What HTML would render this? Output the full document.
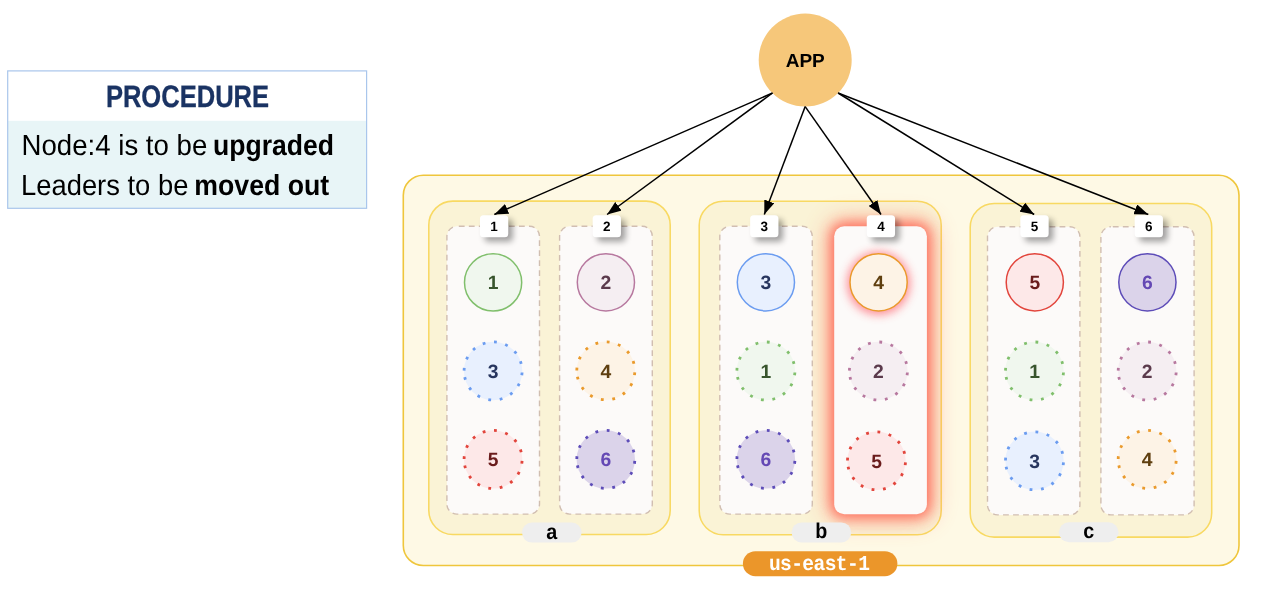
<!DOCTYPE html>
<html lang="en"><head><meta charset="utf-8"><title>Procedure</title>
<style>
html,body{margin:0;padding:0;background:#fff;}
body{width:1261px;height:594px;overflow:hidden;}
svg{display:block;position:absolute;left:0;top:0;will-change:transform;}
text{text-rendering:geometricPrecision;}
text{font-family:"Liberation Sans",sans-serif;}
.n{font-weight:bold;font-size:19.3px;text-anchor:middle;}
.l{font-weight:bold;font-size:13.5px;text-anchor:middle;fill:#000;}
.z{font-weight:bold;font-size:19px;text-anchor:middle;fill:#000;}
.m{font-family:"Liberation Mono","DejaVu Sans Mono",monospace;font-weight:bold;font-size:19.6px;fill:#fff;}
.b{font-size:29px;fill:#000;}
.bb{font-size:29px;fill:#000;font-weight:bold;}
.t{font-size:31px;font-weight:bold;fill:#1a3363;stroke:#1a3363;stroke-width:0.3px;stroke-linejoin:round;}
</style></head><body>
<svg width="1261" height="594" viewBox="0 0 1261 594" role="img" aria-label="Procedure diagram">
<defs>
<filter id="glow" x="-80%" y="-30%" width="260%" height="160%"><feGaussianBlur stdDeviation="6.5"/></filter>
<filter id="glowb" x="-90%" y="-40%" width="280%" height="180%"><feGaussianBlur stdDeviation="13"/></filter>
<filter id="glow2" x="-60%" y="-60%" width="220%" height="220%"><feGaussianBlur stdDeviation="5"/></filter>
<filter id="sh" x="-60%" y="-60%" width="220%" height="220%"><feGaussianBlur stdDeviation="3.1"/></filter>
<marker id="ah" viewBox="0 0 14 10.6" refX="14" refY="5.3" markerWidth="14" markerHeight="10.6" markerUnits="userSpaceOnUse" orient="auto"><path d="M0 0 L14 5.3 L0 10.6 Z" fill="#000"/></marker>
</defs>
<rect width="1261" height="594" fill="#ffffff"/>
<g id="procedure">
<rect x="8" y="71" width="358.5" height="50" fill="#ffffff"/>
<rect x="8" y="120.8" width="358.5" height="87.2" fill="#e8f5f7"/>
<rect x="7.7" y="70.9" width="358.9" height="137.4" fill="none" stroke="#a9c6ec" stroke-width="1.2"/>
<text class="t" x="105.9" y="107.3" textLength="163.2" lengthAdjust="spacingAndGlyphs">PROCEDURE</text>
<text class="b" y="154.9"><tspan x="21.5" textLength="185.8" lengthAdjust="spacingAndGlyphs">Node:4 is to be</tspan> <tspan class="bb" x="213.1" textLength="121" lengthAdjust="spacingAndGlyphs">upgraded</tspan></text>
<text class="b" y="194.6"><tspan x="21.0" textLength="167.4" lengthAdjust="spacingAndGlyphs">Leaders to be</tspan> <tspan class="bb" x="194.3" textLength="134.9" lengthAdjust="spacingAndGlyphs">moved out</tspan></text>
</g>
<g id="region">
<rect x="403.3" y="175.3" width="835.7" height="390.2" rx="20" fill="#fef9e5" stroke="#efc63c" stroke-width="1.6"/>
<rect x="428.8" y="201.1" width="241.4" height="333.4" rx="24" fill="#faf3d6" stroke="#f8d962" stroke-width="1.55"/>
<rect x="699.2" y="201.2" width="242" height="333.6" rx="24" fill="#faf3d6" stroke="#f8d962" stroke-width="1.55"/>
<rect x="970.2" y="203.5" width="241.5" height="333.6" rx="24" fill="#faf3d6" stroke="#f8d962" stroke-width="1.55"/>
</g>
<rect x="827.2" y="219.2" width="106.7" height="302" rx="16" fill="#ff4a3a" opacity="0.32" filter="url(#glowb)"/>
<rect x="830.7" y="222.7" width="99.7" height="295" rx="13" fill="#ff4a3a" opacity="0.72" filter="url(#glow)"/>
<rect x="446.9" y="226.3" width="92.6" height="287.8" rx="10" fill="#fcfaf9" stroke="#d1beb1" stroke-width="1.4" stroke-dasharray="5.8 4.22" stroke-dashoffset="-1.92"/>
<rect x="559.6" y="226.3" width="92.7" height="287.8" rx="10" fill="#fcfaf9" stroke="#d1beb1" stroke-width="1.4" stroke-dasharray="5.8 4.22" stroke-dashoffset="-1.92"/>
<rect x="719.8" y="226.3" width="92.5" height="287.8" rx="10" fill="#fcfaf9" stroke="#d1beb1" stroke-width="1.4" stroke-dasharray="5.8 4.22" stroke-dashoffset="-1.92"/>
<rect x="834.2" y="226.2" width="92.7" height="288" rx="10" fill="#fcfaf9"/>
<rect x="987.5" y="226.8" width="92.4" height="288.1" rx="10" fill="#fcfaf9" stroke="#d1beb1" stroke-width="1.4" stroke-dasharray="5.8 4.22" stroke-dashoffset="-1.92"/>
<rect x="1100.9" y="226.8" width="93.2" height="288.1" rx="10" fill="#fcfaf9" stroke="#d1beb1" stroke-width="1.4" stroke-dasharray="5.8 4.22" stroke-dashoffset="-1.92"/>
<circle cx="493.1" cy="282.4" r="28.6" fill="#f0f7ee" stroke="#80bf6c" stroke-width="1.5"/>
<text class="n" x="493.1" y="289.3" fill="#38552d">1</text>
<circle cx="493.1" cy="371" r="29.2" fill="#e8f0fe"/>
<path d="M464.1 371A29 29 0 1 1 522.1 371A29 29 0 1 1 464.1 371" fill="none" stroke="#6b9cf0" stroke-width="2.8" stroke-dasharray="2.8 8.715" stroke-dashoffset="-0.4"/>
<text class="n" x="493.1" y="377.9" fill="#27355e">3</text>
<circle cx="493.1" cy="459.4" r="29.2" fill="#fde8e8"/>
<path d="M464.1 459.4A29 29 0 1 1 522.1 459.4A29 29 0 1 1 464.1 459.4" fill="none" stroke="#e2453c" stroke-width="2.8" stroke-dasharray="2.8 8.715" stroke-dashoffset="-0.4"/>
<text class="n" x="493.1" y="466.3" fill="#6a1c1c">5</text>
<circle cx="605.9" cy="282.3" r="28.6" fill="#f5eef2" stroke="#b7789f" stroke-width="1.5"/>
<text class="n" x="605.9" y="289.2" fill="#5b3a4c">2</text>
<circle cx="605.8" cy="370.8" r="29.2" fill="#fdf3e6"/>
<path d="M576.8 370.8A29 29 0 1 1 634.8 370.8A29 29 0 1 1 576.8 370.8" fill="none" stroke="#ea9a2c" stroke-width="2.8" stroke-dasharray="2.8 8.715" stroke-dashoffset="-0.4"/>
<text class="n" x="605.8" y="377.7" fill="#5f3f10">4</text>
<circle cx="605.8" cy="459.4" r="29.2" fill="#dbd3ea"/>
<path d="M576.8 459.4A29 29 0 1 1 634.8 459.4A29 29 0 1 1 576.8 459.4" fill="none" stroke="#5d4cb8" stroke-width="2.8" stroke-dasharray="2.8 8.715" stroke-dashoffset="-0.4"/>
<text class="n" x="605.8" y="466.3" fill="#6448b4">6</text>
<circle cx="765.9" cy="282.3" r="28.6" fill="#e8f0fe" stroke="#6b9cf0" stroke-width="1.5"/>
<text class="n" x="765.9" y="289.2" fill="#27355e">3</text>
<circle cx="765.9" cy="371" r="29.2" fill="#f0f7ee"/>
<path d="M736.9 371A29 29 0 1 1 794.9 371A29 29 0 1 1 736.9 371" fill="none" stroke="#80bf6c" stroke-width="2.8" stroke-dasharray="2.8 8.715" stroke-dashoffset="-0.4"/>
<text class="n" x="765.9" y="377.9" fill="#38552d">1</text>
<circle cx="765.9" cy="459.4" r="29.2" fill="#dbd3ea"/>
<path d="M736.9 459.4A29 29 0 1 1 794.9 459.4A29 29 0 1 1 736.9 459.4" fill="none" stroke="#5d4cb8" stroke-width="2.8" stroke-dasharray="2.8 8.715" stroke-dashoffset="-0.4"/>
<text class="n" x="765.9" y="466.3" fill="#6448b4">6</text>
<circle cx="878.6" cy="283.3" r="31.6" fill="#ff4d5a" opacity="0.62" filter="url(#glow2)"/>
<circle cx="878.6" cy="282.3" r="28.6" fill="#fdf3e6" stroke="#ea9a2c" stroke-width="1.5"/>
<text class="n" x="878.6" y="289.2" fill="#5f3f10">4</text>
<circle cx="878.4" cy="371" r="29.2" fill="#f5eef2"/>
<path d="M849.4 371A29 29 0 1 1 907.4 371A29 29 0 1 1 849.4 371" fill="none" stroke="#b7789f" stroke-width="2.8" stroke-dasharray="2.8 8.715" stroke-dashoffset="-0.4"/>
<text class="n" x="878.4" y="377.9" fill="#5b3a4c">2</text>
<circle cx="876.5" cy="460.8" r="29.2" fill="#fde8e8"/>
<path d="M847.5 460.8A29 29 0 1 1 905.5 460.8A29 29 0 1 1 847.5 460.8" fill="none" stroke="#e2453c" stroke-width="2.8" stroke-dasharray="2.8 8.715" stroke-dashoffset="-0.4"/>
<text class="n" x="876.5" y="467.7" fill="#6a1c1c">5</text>
<circle cx="1034.8" cy="282.3" r="28.6" fill="#fde8e8" stroke="#e2453c" stroke-width="1.5"/>
<text class="n" x="1034.8" y="289.2" fill="#6a1c1c">5</text>
<circle cx="1034.5" cy="371" r="29.2" fill="#f0f7ee"/>
<path d="M1005.5 371A29 29 0 1 1 1063.5 371A29 29 0 1 1 1005.5 371" fill="none" stroke="#80bf6c" stroke-width="2.8" stroke-dasharray="2.8 8.715" stroke-dashoffset="-0.4"/>
<text class="n" x="1034.5" y="377.9" fill="#38552d">1</text>
<circle cx="1034.5" cy="460.8" r="29.2" fill="#e8f0fe"/>
<path d="M1005.5 460.8A29 29 0 1 1 1063.5 460.8A29 29 0 1 1 1005.5 460.8" fill="none" stroke="#6b9cf0" stroke-width="2.8" stroke-dasharray="2.8 8.715" stroke-dashoffset="-0.4"/>
<text class="n" x="1034.5" y="467.7" fill="#27355e">3</text>
<circle cx="1147.4" cy="282.3" r="28.6" fill="#dbd3ea" stroke="#5d4cb8" stroke-width="1.5"/>
<text class="n" x="1147.4" y="289.2" fill="#6448b4">6</text>
<circle cx="1147.2" cy="371" r="29.2" fill="#f5eef2"/>
<path d="M1118.2 371A29 29 0 1 1 1176.2 371A29 29 0 1 1 1118.2 371" fill="none" stroke="#b7789f" stroke-width="2.8" stroke-dasharray="2.8 8.715" stroke-dashoffset="-0.4"/>
<text class="n" x="1147.2" y="377.9" fill="#5b3a4c">2</text>
<circle cx="1147.2" cy="459.4" r="29.2" fill="#fdf3e6"/>
<path d="M1118.2 459.4A29 29 0 1 1 1176.2 459.4A29 29 0 1 1 1118.2 459.4" fill="none" stroke="#ea9a2c" stroke-width="2.8" stroke-dasharray="2.8 8.715" stroke-dashoffset="-0.4"/>
<text class="n" x="1147.2" y="466.3" fill="#5f3f10">4</text>
<rect x="522" y="522.6" width="59.6" height="20" rx="10" fill="#eeeeee"/>
<text class="z" transform="translate(551.8 538.6) scale(1.04 1.13)">a</text>
<rect x="791.6" y="522.4" width="59.6" height="20" rx="10" fill="#eeeeee"/>
<text class="z" transform="translate(821.4 538.4) scale(1.04 1.13)">b</text>
<rect x="1058.9" y="522.3" width="59.6" height="20" rx="10" fill="#eeeeee"/>
<text class="z" transform="translate(1088.7 538.3) scale(1.04 1.13)">c</text>
<rect x="742.9" y="551.2" width="154.5" height="25" rx="12.5" fill="#eb962a"/>
<text class="m" transform="translate(768.9 570) scale(1 1.08)" textLength="101" lengthAdjust="spacing">us-east-1</text>
<circle cx="805.2" cy="60.1" r="46.5" fill="#f6c77a"/>
<text x="805.2" y="67.1" text-anchor="middle" font-weight="bold" font-size="19px" fill="#000">APP</text>
<line x1="772.5" y1="93" x2="494.3" y2="214.5" stroke="#000" stroke-width="1.5" marker-end="url(#ah)"/>
<line x1="772.5" y1="93" x2="607.1" y2="214.5" stroke="#000" stroke-width="1.5" marker-end="url(#ah)"/>
<line x1="805.2" y1="106.6" x2="764.3" y2="214.5" stroke="#000" stroke-width="1.5" marker-end="url(#ah)"/>
<line x1="805.2" y1="106.6" x2="881" y2="214.5" stroke="#000" stroke-width="1.5" marker-end="url(#ah)"/>
<line x1="838.1" y1="93" x2="1034.2" y2="214.5" stroke="#000" stroke-width="1.5" marker-end="url(#ah)"/>
<line x1="838.1" y1="93" x2="1148.3" y2="214.5" stroke="#000" stroke-width="1.5" marker-end="url(#ah)"/>
<rect x="484.7" y="219.6" width="28" height="22" rx="3.5" fill="#000" opacity="0.37" filter="url(#sh)"/>
<rect x="479.95" y="215.2" width="28.3" height="22.1" rx="3.5" fill="#fff"/>
<text class="l" x="494.1" y="231">1</text>
<rect x="597.4" y="219.6" width="28" height="22" rx="3.5" fill="#000" opacity="0.37" filter="url(#sh)"/>
<rect x="592.65" y="215.2" width="28.3" height="22.1" rx="3.5" fill="#fff"/>
<text class="l" x="606.8" y="231">2</text>
<rect x="754.9" y="219.6" width="28" height="22" rx="3.5" fill="#000" opacity="0.37" filter="url(#sh)"/>
<rect x="750.15" y="215.2" width="28.3" height="22.1" rx="3.5" fill="#fff"/>
<text class="l" x="764.3" y="231">3</text>
<rect x="871.5" y="219.6" width="28" height="22" rx="3.5" fill="#000" opacity="0.37" filter="url(#sh)"/>
<rect x="866.75" y="215.2" width="28.3" height="22.1" rx="3.5" fill="#fff"/>
<text class="l" x="880.9" y="231">4</text>
<rect x="1025.1" y="219.6" width="28" height="22" rx="3.5" fill="#000" opacity="0.37" filter="url(#sh)"/>
<rect x="1020.35" y="215.2" width="28.3" height="22.1" rx="3.5" fill="#fff"/>
<text class="l" x="1034.5" y="231">5</text>
<rect x="1139.4" y="219.6" width="28" height="22" rx="3.5" fill="#000" opacity="0.37" filter="url(#sh)"/>
<rect x="1134.65" y="215.2" width="28.3" height="22.1" rx="3.5" fill="#fff"/>
<text class="l" x="1148.8" y="231">6</text>
</svg>
</body></html>
